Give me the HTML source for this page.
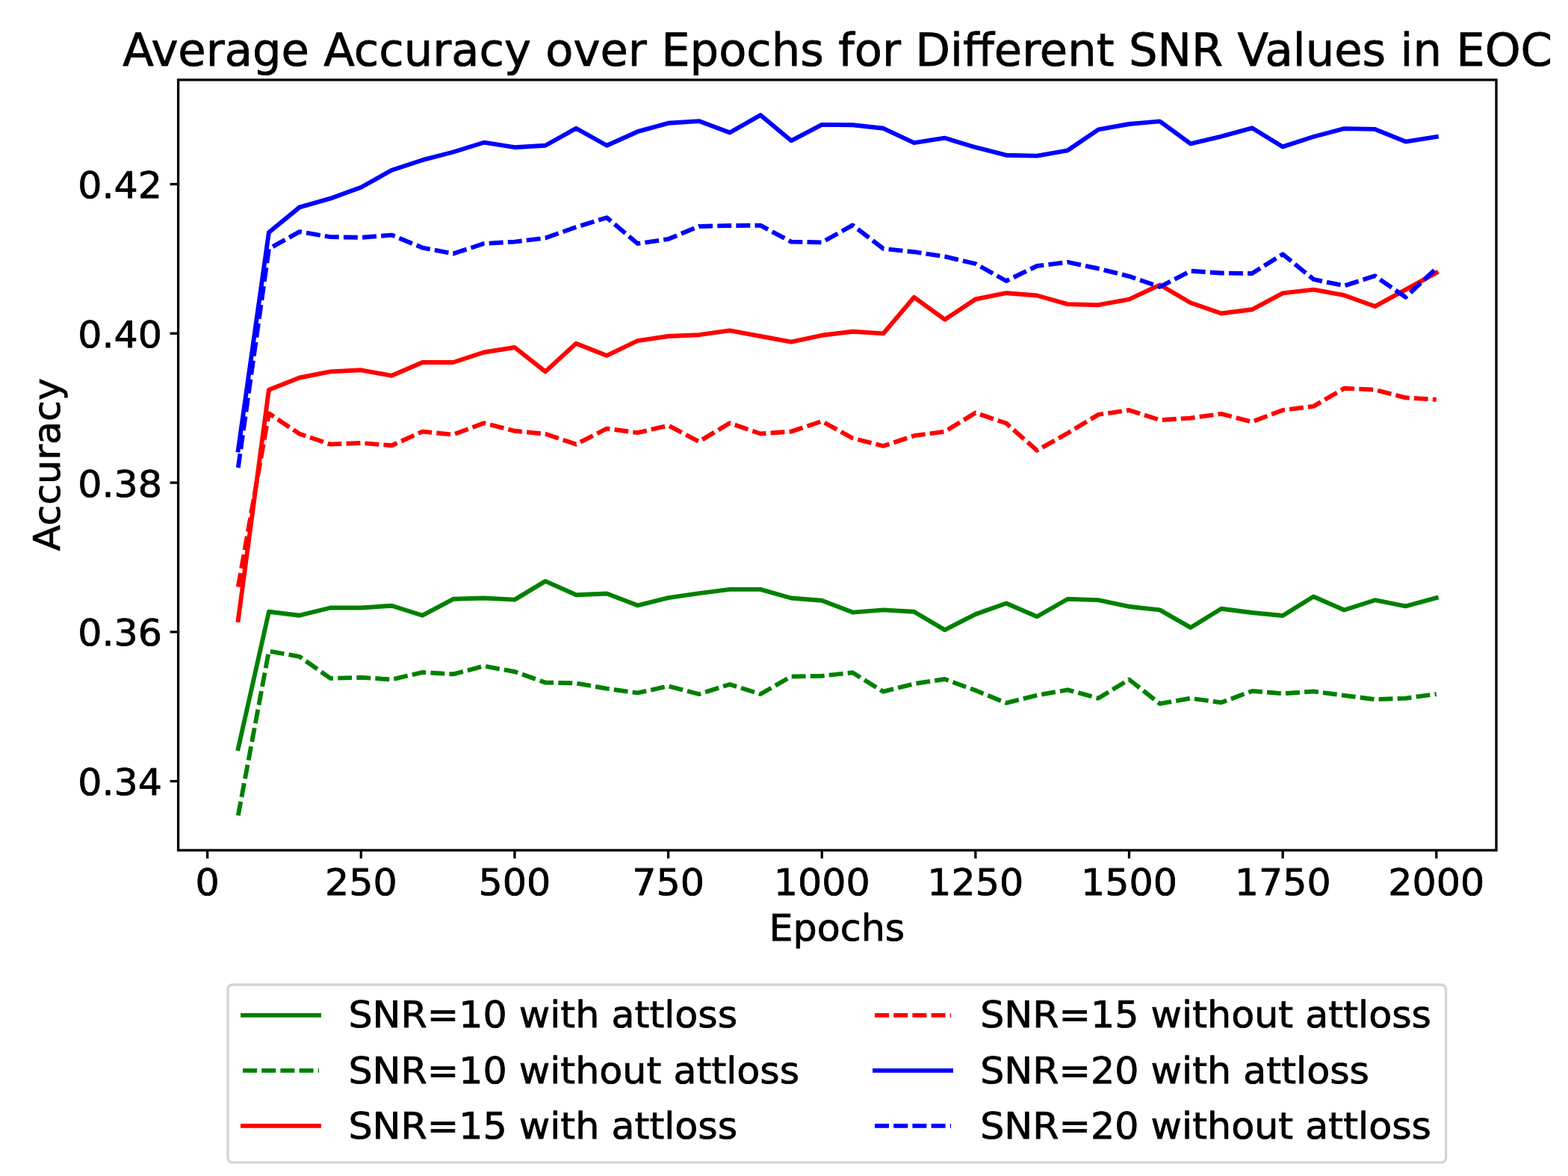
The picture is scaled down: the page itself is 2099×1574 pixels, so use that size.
<!DOCTYPE html>
<html><head><meta charset="utf-8"><title>Average Accuracy over Epochs for Different SNR Values in EOC</title>
<style>html,body{margin:0;padding:0;background:#fff;}body{width:2099px;height:1574px;overflow:hidden;}svg{display:block;}</style>
</head><body>
<svg width="2099" height="1574" viewBox="0 0 2099 1574" style="text-rendering:geometricPrecision">
<rect x="0" y="0" width="2099" height="1574" fill="#fff"/>
<clipPath id="ax"><rect x="238.6" y="106.9" width="1764.4" height="1031.1"/></clipPath>
<g clip-path="url(#ax)" fill="none" stroke-linejoin="round">
<polyline points="318.80,1002.00 359.93,818.80 401.05,823.70 442.18,813.50 483.31,813.50 524.44,810.70 565.57,823.70 606.69,801.80 647.82,800.50 688.95,802.60 730.08,777.90 771.21,796.20 812.33,794.50 853.46,810.30 894.59,800.20 935.72,794.10 976.85,788.90 1017.97,788.90 1059.10,800.50 1100.23,803.80 1141.36,819.60 1182.49,816.40 1223.61,818.80 1264.74,843.10 1305.87,822.10 1347.00,807.50 1388.13,825.30 1429.25,801.80 1470.38,803.10 1511.51,811.80 1552.64,816.40 1593.77,839.90 1634.89,814.80 1676.02,820.00 1717.15,824.00 1758.28,798.50 1799.41,816.50 1840.53,803.20 1881.66,811.30 1922.79,800.20" stroke="#008000" stroke-width="5.9" stroke-linecap="square"/>
<polyline points="318.80,1091.50 359.93,871.50 401.05,878.80 442.18,907.90 483.31,906.80 524.44,909.50 565.57,899.80 606.69,902.30 647.82,891.50 688.95,899.00 730.08,913.60 771.21,914.40 812.33,921.70 853.46,927.40 894.59,918.40 935.72,929.00 976.85,916.00 1017.97,929.00 1059.10,905.50 1100.23,904.70 1141.36,900.30 1182.49,925.70 1223.61,915.20 1264.74,909.00 1305.87,924.10 1347.00,940.80 1388.13,930.60 1429.25,923.30 1470.38,934.60 1511.51,909.50 1552.64,941.90 1593.77,934.60 1634.89,940.30 1676.02,924.90 1717.15,928.30 1758.28,925.40 1799.41,930.80 1840.53,936.10 1881.66,934.60 1922.79,929.00" pathLength="1867.13" stroke="#008000" stroke-width="5.9" stroke-dasharray="19.0 6.2" stroke-linecap="butt"/>
<polyline points="318.80,830.00 359.93,521.70 401.05,505.50 442.18,497.40 483.31,495.30 524.44,502.80 565.57,485.00 606.69,485.00 647.82,471.50 688.95,465.00 730.08,497.40 771.21,459.70 812.33,475.90 853.46,456.10 894.59,450.00 935.72,448.20 976.85,442.40 1017.97,450.00 1059.10,457.70 1100.23,448.80 1141.36,443.70 1182.49,446.40 1223.61,397.90 1264.74,427.70 1305.87,400.50 1347.00,392.20 1388.13,395.50 1429.25,407.10 1470.38,408.20 1511.51,400.60 1552.64,381.30 1593.77,405.20 1634.89,419.50 1676.02,414.30 1717.15,392.40 1758.28,387.60 1799.41,395.20 1840.53,410.10 1881.66,387.60 1922.79,365.00" stroke="#ff0000" stroke-width="5.9" stroke-linecap="square"/>
<polyline points="318.80,785.50 359.93,553.30 401.05,580.80 442.18,594.60 483.31,593.00 524.44,596.20 565.57,577.60 606.69,581.70 647.82,566.30 688.95,576.80 730.08,580.80 771.21,594.60 812.33,573.60 853.46,579.20 894.59,569.50 935.72,591.00 976.85,566.30 1017.97,580.50 1059.10,577.60 1100.23,563.80 1141.36,586.50 1182.49,597.00 1223.61,583.20 1264.74,577.70 1305.87,552.50 1347.00,566.50 1388.13,602.90 1429.25,579.70 1470.38,554.90 1511.51,549.00 1552.64,562.20 1593.77,559.60 1634.89,553.90 1676.02,564.60 1717.15,548.90 1758.28,543.90 1799.41,519.80 1840.53,521.60 1881.66,532.30 1922.79,534.80" pathLength="1920.18" stroke="#ff0000" stroke-width="5.9" stroke-dasharray="19.0 6.2" stroke-linecap="butt"/>
<polyline points="318.80,602.50 359.93,311.00 401.05,277.40 442.18,265.70 483.31,250.70 524.44,227.70 565.57,214.20 606.69,203.50 647.82,190.70 688.95,197.20 730.08,194.80 771.21,171.80 812.33,194.80 853.46,176.20 894.59,164.80 935.72,162.10 976.85,177.50 1017.97,154.00 1059.10,188.30 1100.23,166.90 1141.36,167.30 1182.49,171.80 1223.61,191.20 1264.74,184.70 1305.87,197.20 1347.00,207.70 1388.13,208.60 1429.25,201.30 1470.38,173.40 1511.51,166.00 1552.64,162.40 1593.77,192.40 1634.89,182.60 1676.02,171.30 1717.15,196.40 1758.28,183.00 1799.41,172.10 1840.53,172.90 1881.66,189.60 1922.79,183.10" stroke="#0000ff" stroke-width="5.9" stroke-linecap="square"/>
<polyline points="318.80,626.00 359.93,333.00 401.05,310.10 442.18,317.10 483.31,317.90 524.44,314.60 565.57,331.60 606.69,339.50 647.82,326.00 688.95,323.60 730.08,318.50 771.21,304.00 812.33,291.20 853.46,326.00 894.59,320.00 935.72,303.00 976.85,302.00 1017.97,301.70 1059.10,323.60 1100.23,324.40 1141.36,301.40 1182.49,332.80 1223.61,337.20 1264.74,343.40 1305.87,353.00 1347.00,376.00 1388.13,356.00 1429.25,350.90 1470.38,359.50 1511.51,369.80 1552.64,384.00 1593.77,362.70 1634.89,365.50 1676.02,366.00 1717.15,340.20 1758.28,373.80 1799.41,382.50 1840.53,369.30 1881.66,397.70 1922.79,359.00" pathLength="1988.29" stroke="#0000ff" stroke-width="5.9" stroke-dasharray="19.0 6.2" stroke-linecap="butt"/>
</g>
<rect x="238.6" y="106.9" width="1764.4" height="1031.1" fill="none" stroke="#000" stroke-width="3.3" stroke-linejoin="miter" stroke-linecap="square"/>
<g stroke="#000" stroke-width="3.3"><line x1="277.67" y1="1138" x2="277.67" y2="1149"/><line x1="483.31" y1="1138" x2="483.31" y2="1149"/><line x1="688.95" y1="1138" x2="688.95" y2="1149"/><line x1="894.59" y1="1138" x2="894.59" y2="1149"/><line x1="1100.23" y1="1138" x2="1100.23" y2="1149"/><line x1="1305.87" y1="1138" x2="1305.87" y2="1149"/><line x1="1511.51" y1="1138" x2="1511.51" y2="1149"/><line x1="1717.15" y1="1138" x2="1717.15" y2="1149"/><line x1="1922.79" y1="1138" x2="1922.79" y2="1149"/><line x1="227.6" y1="1045.60" x2="238.6" y2="1045.60"/><line x1="227.6" y1="845.82" x2="238.6" y2="845.82"/><line x1="227.6" y1="646.05" x2="238.6" y2="646.05"/><line x1="227.6" y1="446.27" x2="238.6" y2="446.27"/><line x1="227.6" y1="246.50" x2="238.6" y2="246.50"/></g>
<g style="font-family:'DejaVu Sans','Liberation Sans',sans-serif;fill:#000;stroke:#000;stroke-width:0.8px;stroke-linejoin:round"><text transform="translate(277.67,1197.80) scale(1,0.97)" text-anchor="middle" font-size="50.7">0</text><text transform="translate(483.31,1197.80) scale(1,0.97)" text-anchor="middle" font-size="50.7">250</text><text transform="translate(688.95,1197.80) scale(1,0.97)" text-anchor="middle" font-size="50.7">500</text><text transform="translate(894.59,1197.80) scale(1,0.97)" text-anchor="middle" font-size="50.7">750</text><text transform="translate(1100.23,1197.80) scale(1,0.97)" text-anchor="middle" font-size="50.7">1000</text><text transform="translate(1305.87,1197.80) scale(1,0.97)" text-anchor="middle" font-size="50.7">1250</text><text transform="translate(1511.51,1197.80) scale(1,0.97)" text-anchor="middle" font-size="50.7">1500</text><text transform="translate(1717.15,1197.80) scale(1,0.97)" text-anchor="middle" font-size="50.7">1750</text><text transform="translate(1922.79,1197.80) scale(1,0.97)" text-anchor="middle" font-size="50.7">2000</text><text transform="translate(217.00,1064.05) scale(1,0.97)" text-anchor="end" font-size="50.7">0.34</text><text transform="translate(217.00,864.27) scale(1,0.97)" text-anchor="end" font-size="50.7">0.36</text><text transform="translate(217.00,664.50) scale(1,0.97)" text-anchor="end" font-size="50.7">0.38</text><text transform="translate(217.00,464.72) scale(1,0.97)" text-anchor="end" font-size="50.7">0.40</text><text transform="translate(217.00,264.95) scale(1,0.97)" text-anchor="end" font-size="50.7">0.42</text><text transform="translate(1120.40,1258.95) scale(1,0.97)" text-anchor="middle" font-size="50.7">Epochs</text><text transform="translate(80.30,621.80) rotate(-90) scale(1,0.97)" text-anchor="middle" font-size="50.7">Accuracy</text><text transform="translate(1121.20,87.80)" text-anchor="middle" font-size="60.8">Average Accuracy over Epochs for Different SNR Values in EOC</text></g>
<rect x="305" y="1318" width="1630.6" height="237.9" rx="6.2" ry="6.2" fill="#fff" stroke="#d4d4d4" stroke-width="3.4"/>
<line x1="325" y1="1358.9" x2="427" y2="1358.9" stroke="#008000" stroke-width="5.9" stroke-linecap="square"/>
<line x1="325" y1="1432.9" x2="427" y2="1432.9" stroke="#008000" stroke-width="5.9" stroke-dasharray="19.0 6.2" stroke-linecap="butt"/>
<line x1="325" y1="1506.9" x2="427" y2="1506.9" stroke="#ff0000" stroke-width="5.9" stroke-linecap="square"/>
<line x1="1171" y1="1358.9" x2="1273" y2="1358.9" stroke="#ff0000" stroke-width="5.9" stroke-dasharray="19.0 6.2" stroke-linecap="butt"/>
<line x1="1171" y1="1432.9" x2="1273" y2="1432.9" stroke="#0000ff" stroke-width="5.9" stroke-linecap="square"/>
<line x1="1171" y1="1506.9" x2="1273" y2="1506.9" stroke="#0000ff" stroke-width="5.9" stroke-dasharray="19.0 6.2" stroke-linecap="butt"/>
<g style="font-family:'DejaVu Sans','Liberation Sans',sans-serif;fill:#000;stroke:#000;stroke-width:0.8px;stroke-linejoin:round"><text transform="translate(466.40,1375.10) scale(1,0.97)" font-size="50.7">SNR=10 with attloss</text><text transform="translate(466.40,1450.10) scale(1,0.97)" font-size="50.7">SNR=10 without attloss</text><text transform="translate(466.40,1524.20) scale(1,0.97)" font-size="50.7">SNR=15 with attloss</text><text transform="translate(1312.20,1375.10) scale(1,0.97)" font-size="50.7">SNR=15 without attloss</text><text transform="translate(1312.20,1450.10) scale(1,0.97)" font-size="50.7">SNR=20 with attloss</text><text transform="translate(1312.20,1524.20) scale(1,0.97)" font-size="50.7">SNR=20 without attloss</text></g>
</svg>
</body></html>
